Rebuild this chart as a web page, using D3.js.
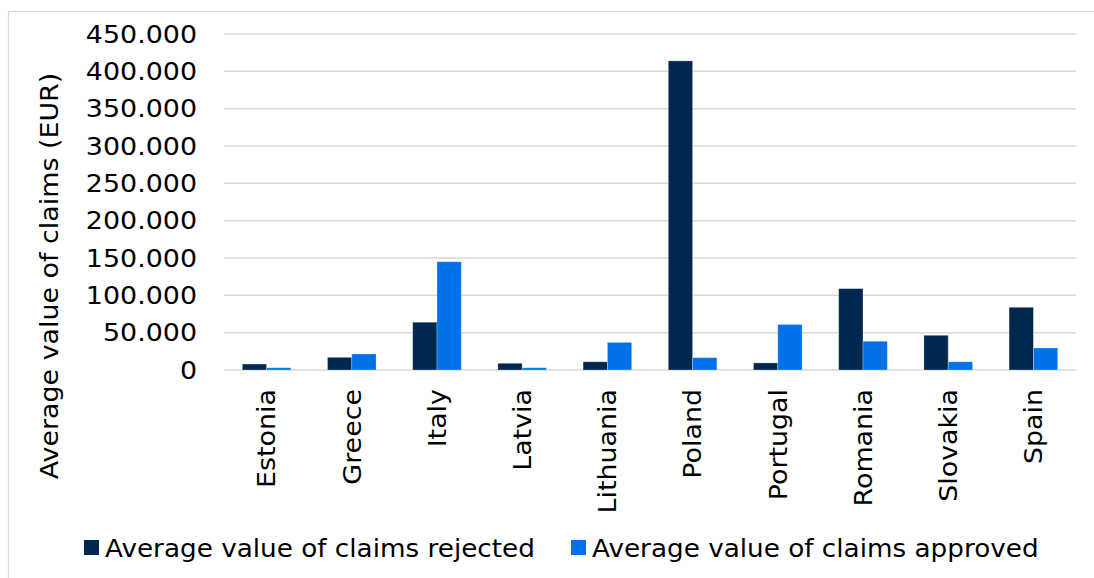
<!DOCTYPE html>
<html>
<head>
<meta charset="utf-8">
<script src="https://cdn.jsdelivr.net/npm/d3@7"></script>
<style>
  html, body { margin: 0; padding: 0; background: #fff; }
  svg { display: block; font-family: "DejaVu Sans", Verdana, sans-serif; }
</style>
</head>
<body>
<svg id="chart" width="1094" height="578"></svg>
<script>
const categories = ["Estonia", "Greece", "Italy", "Latvia", "Lithuania", "Poland", "Portugal", "Romania", "Slovakia", "Spain"];
const rejected = [8000, 17000, 64000, 9000, 11000, 414000, 9500, 109000, 46500, 84000];
const approved = [3000, 21500, 145000, 3000, 37000, 16500, 61000, 38500, 11000, 29500];
const seriesNames = ["Average value of claims rejected", "Average value of claims approved"];
const yTicks = [0, 50000, 100000, 150000, 200000, 250000, 300000, 350000, 400000, 450000];
const yTitle = "Average value of claims (EUR)";
const colors = ["#00284F", "#0071E6"];

const svg = d3.select("#chart");
const margin = {left: 224, right: 1076, top: 34, bottom: 370};
const FS = 25;
const STRETCH = 1.075;
const LEGEND_STRETCH = 1.05;

// outer border (only top/left visible)
svg.append("rect").attr("x", 8.5).attr("y", 11.5).attr("width", 1200).attr("height", 700)
  .attr("fill", "none").attr("stroke", "#d9d9d9").attr("stroke-width", 1.2);

const x0 = d3.scaleBand().domain(categories).range([margin.left, margin.right]).paddingInner(0).paddingOuter(0);
const y = d3.scaleLinear().domain([0, 450000]).range([margin.bottom, margin.top]);
const barW = 24.3;
const x1 = d3.scaleBand().domain([0, 1]).range([x0.bandwidth() / 2 - barW, x0.bandwidth() / 2 + barW]);

const fmt = v => v === 0 ? "0" : d3.format(",")(v).replace(/,/g, ".");

// gridlines
svg.append("g").selectAll("line").data(yTicks).join("line")
  .attr("x1", margin.left).attr("x2", margin.right)
  .attr("y1", d => y(d)).attr("y2", d => y(d))
  .attr("stroke", "#d9d9d9").attr("stroke-width", 1.5);

// y axis labels
const yAxis = d3.axisLeft(y).tickValues(yTicks).tickFormat(fmt).tickSize(0).tickPadding(0);
const yg = svg.append("g").attr("transform", `translate(197,0)`).call(yAxis);
yg.select(".domain").remove();
yg.selectAll("text").attr("font-size", FS).attr("fill", "#000").attr("font-family", "DejaVu Sans, Verdana, sans-serif");

// bars
const data = categories.map((c, i) => ({c, vals: [rejected[i], approved[i]]}));
const groups = svg.append("g").selectAll("g").data(data).join("g")
  .attr("transform", d => `translate(${x0(d.c)},0)`);
groups.selectAll("rect").data(d => d.vals.map((v, k) => ({v, k}))).join("rect")
  .attr("x", d => x1(d.k)).attr("width", x1.bandwidth())
  .attr("y", d => y(d.v)).attr("height", d => y(0) - y(d.v))
  .attr("fill", d => colors[d.k])
  .attr("stroke", "#ffffff").attr("stroke-opacity", 0.35).attr("stroke-width", 0.8);

// x labels
const xAxis = d3.axisBottom(x0).tickSize(0).tickPadding(0);
const xg = svg.append("g").attr("transform", `translate(0,${margin.bottom})`).call(xAxis);
xg.select(".domain").remove();
xg.selectAll("text")
  .attr("font-size", FS).attr("fill", "#000").attr("font-family", "DejaVu Sans, Verdana, sans-serif")
  .attr("transform", "rotate(-90)")
  .attr("text-anchor", "end")
  .attr("x", -19).attr("y", 0).attr("dy", "0.35em");

// y title
svg.append("text")
  .attr("class", "ytitle")
  .attr("transform", "translate(58,276) rotate(-90)")
  .attr("text-anchor", "middle")
  .attr("font-size", FS).attr("fill", "#000")
  .text(yTitle);

// widen axis text slightly to match reference glyph widths
svg.selectAll("text").each(function() {
  const len = this.getComputedTextLength();
  d3.select(this).attr("textLength", len * STRETCH).attr("lengthAdjust", "spacingAndGlyphs");
});

// legend
const legendX = [84, 571];
const lg = svg.append("g").selectAll("g").data(seriesNames).join("g")
  .attr("transform", (d, i) => `translate(${legendX[i]},540)`);
lg.append("rect").attr("width", 15).attr("height", 15).attr("fill", (d, i) => colors[i]);
lg.append("text").attr("x", 21).attr("y", 16.5).attr("font-size", FS).attr("fill", "#000").text(d => d)
  .each(function() {
    const len = this.getComputedTextLength();
    d3.select(this).attr("textLength", len * LEGEND_STRETCH).attr("lengthAdjust", "spacingAndGlyphs");
  });
</script>
</body>
</html>
